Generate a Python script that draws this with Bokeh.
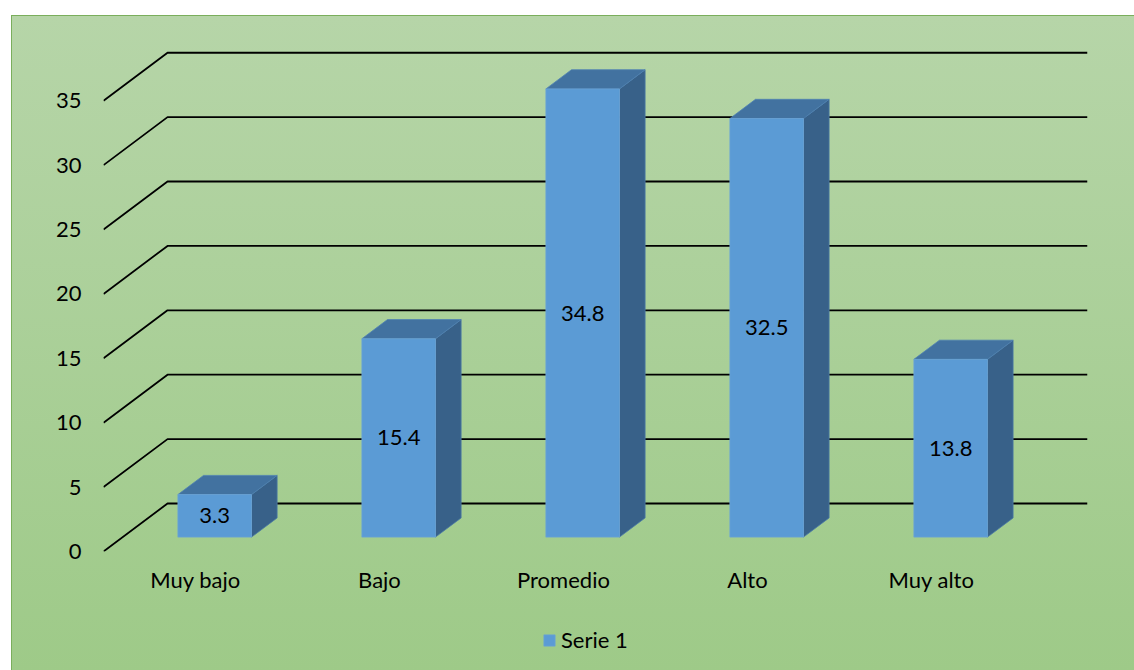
from bokeh.plotting import figure
from bokeh.layouts import column
from bokeh.models import Range1d, FixedTicker, Legend, LegendItem
from bokeh.embed import file_html
from bokeh.resources import INLINE
from bokeh.core.properties import value

# ---- data ----
categories = ["Muy bajo", "Bajo", "Promedio", "Alto", "Muy alto"]
values = [3.3, 15.4, 34.8, 32.5, 13.8]
y_ticks = [0, 5, 10, 15, 20, 25, 30, 35]
series_name = "Serie 1"

# ---- oblique 3D geometry (in data units) ----
DEPTH_X = 0.348   # horizontal depth of the floor, in category units
DEPTH_Y = 3.727   # vertical depth of the floor, in value units
F0, F1 = 0.3, 0.7  # bar front / back depth fractions
BAR_L, BAR_R = 0.3, 0.7  # bar extent inside a category slot
N = len(categories)

FONT = "Lato"
FS = "22px"
FRONT_FILL, FRONT_LINE = "#5B9BD5", "#6BA3D6"

p = figure(width=1123, height=600,
           x_range=Range1d(0, N + DEPTH_X), y_range=Range1d(0, 41.54),
           output_backend="svg", toolbar_location=None,
           min_border_left=91, min_border_right=48,
           min_border_top=0, min_border_bottom=65)
p.background_fill_color = None
p.border_fill_color = None
p.outline_line_color = None
p.xgrid.visible = False
p.ygrid.visible = False

# ---- gridlines: front diagonal + back wall ----
gx = [[0, DEPTH_X, N + DEPTH_X] for t in y_ticks]
gy = [[t, t + DEPTH_Y, t + DEPTH_Y] for t in y_ticks]
p.multi_line(xs=gx, ys=gy, line_color="#000000", line_width=1.8)

# ---- bars ----
fx0 = [i + BAR_L + F0 * DEPTH_X for i in range(N)]
fx1 = [i + BAR_R + F0 * DEPTH_X for i in range(N)]
fy0 = F0 * DEPTH_Y
dx = (F1 - F0) * DEPTH_X
dy = (F1 - F0) * DEPTH_Y

side_xs = [[x1, x1 + dx, x1 + dx, x1] for x1 in fx1]
side_ys = [[fy0, fy0 + dy, fy0 + v + dy, fy0 + v] for v in values]
top_xs = [[x0, x1, x1 + dx, x0 + dx] for x0, x1 in zip(fx0, fx1)]
top_ys = [[fy0 + v, fy0 + v, fy0 + v + dy, fy0 + v + dy] for v in values]
front_top = [fy0 + v for v in values]

p.patches(xs=side_xs, ys=side_ys, fill_color="#386189", line_color="#4A78A6", line_width=0.8)
p.patches(xs=top_xs, ys=top_ys, fill_color="#4272A0", line_color="#4F82B3", line_width=0.8)
p.quad(left=fx0, right=fx1, bottom=[fy0] * N, top=front_top,
       fill_color=FRONT_FILL, line_color=FRONT_LINE, line_width=0.8)

# ---- data labels ----
p.text(x=[(a + b) / 2 for a, b in zip(fx0, fx1)],
       y=[fy0 + v / 2 for v in values],
       text=[f"{v}" for v in values],
       text_align="center", text_baseline="middle",
       text_font=value(FONT), text_font_size=FS, text_color="#000000")

# ---- axes ----
p.yaxis.ticker = FixedTicker(ticks=y_ticks)
p.yaxis.axis_line_color = None
p.yaxis.major_tick_line_color = None
p.yaxis.minor_tick_line_color = None
p.yaxis.major_label_standoff = 16
p.yaxis.major_label_text_font = FONT
p.yaxis.major_label_text_font_size = FS
p.yaxis.major_label_text_color = "#000000"

xt = [i + 0.5 for i in range(N)]
p.xaxis.ticker = FixedTicker(ticks=xt)
p.xaxis.major_label_overrides = {t: c for t, c in zip(xt, categories)}
p.xaxis.axis_line_color = None
p.xaxis.major_tick_line_color = None
p.xaxis.minor_tick_line_color = None
p.xaxis.major_label_standoff = 8
p.xaxis.major_label_text_font = FONT
p.xaxis.major_label_text_font_size = FS
p.xaxis.major_label_text_color = "#000000"

# ---- legend strip below the chart (its frame is aligned with the chart frame) ----
lg = figure(width=1123, height=55, x_range=Range1d(100, 101), y_range=Range1d(100, 101),
            output_backend="svg", toolbar_location=None,
            min_border_left=0, min_border_right=0, min_border_top=0, min_border_bottom=0)
lg.background_fill_color = None
lg.border_fill_color = None
lg.outline_line_color = None
lg.axis.visible = False
lg.grid.visible = False
# same series, out of this strip's view: only its legend swatch shows
swatch = lg.quad(left=fx0, right=fx1, bottom=[fy0] * N, top=front_top,
                 fill_color=FRONT_FILL, line_color=FRONT_LINE, line_width=0.8)
legend = Legend(items=[LegendItem(label=series_name, renderers=[swatch])],
                location=(439, 18), orientation="horizontal",
                background_fill_alpha=0, border_line_alpha=0,
                label_text_font=FONT, label_text_font_size=FS,
                label_text_color="#000000",
                glyph_width=14, glyph_height=14, label_standoff=5,
                margin=0, padding=0)
lg.add_layout(legend)

layout = column(p, lg, spacing=0, margin=(15, 0, 0, 11),
                styles={
                    "background": "linear-gradient(to bottom, #B6D5A8, #9ECA88)",
                    "border-top": "1px solid #7AAE5C",
                    "border-left": "1px solid #7AAE5C",
                })

open("out.html", "w").write(file_html(layout, INLINE))
